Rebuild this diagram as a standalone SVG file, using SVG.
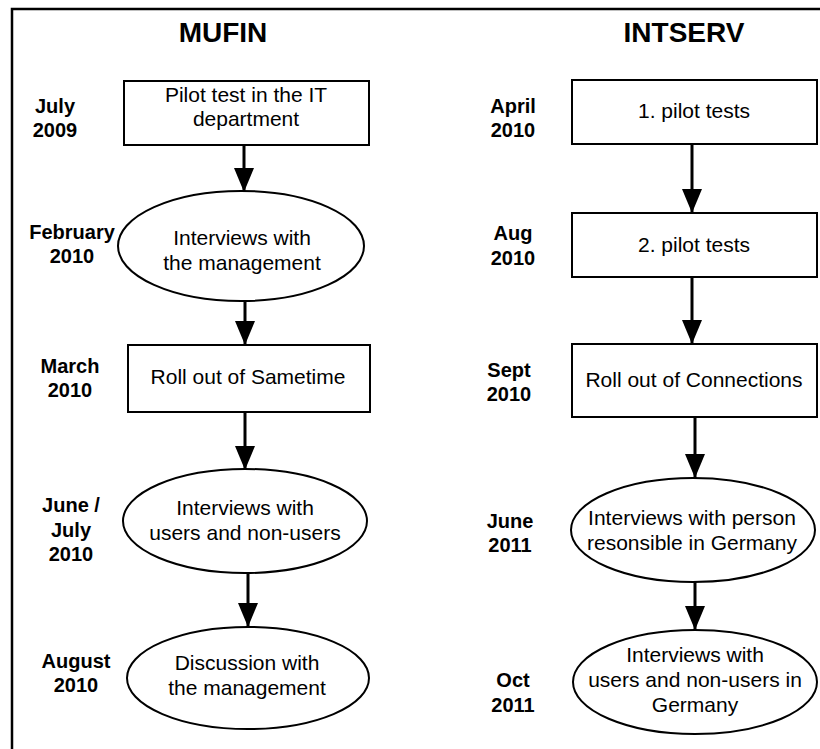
<svg xmlns="http://www.w3.org/2000/svg" width="820" height="749" viewBox="0 0 820 749">
<style>
.title{font-family:"Liberation Sans",Arial,sans-serif;font-weight:bold;font-size:28px;text-anchor:middle;fill:#000}
.date{font-family:"Liberation Sans",Arial,sans-serif;font-weight:bold;font-size:20px;text-anchor:middle;fill:#000}
.lbl{font-family:"Liberation Sans",Arial,sans-serif;font-size:21px;text-anchor:middle;fill:#000}
.shape{fill:#fff;stroke:#000;stroke-width:2}
.conn{stroke:#000;stroke-width:3;fill:none;marker-end:url(#arrow)}
</style>
<defs>
<marker id="arrow" markerUnits="userSpaceOnUse" markerWidth="24" markerHeight="20" refX="24" refY="10" orient="auto" viewBox="0 0 24 20">
<path d="M0,0 L24,10 L0,20 Z" fill="#000"/>
</marker>
</defs>
<rect width="820" height="749" fill="#fff"/>
<path d="M12,750 V9 H822" fill="none" stroke="#000" stroke-width="2.5"/>
<text class="title" x="223" y="42">MUFIN</text>
<text class="title" x="684" y="42">INTSERV</text>

<g id="dates">
<text class="date" x="55" y="113">July</text><text class="date" x="55" y="137">2009</text>
<text class="date" x="72" y="239">February</text><text class="date" x="72" y="263">2010</text>
<text class="date" x="70" y="373">March</text><text class="date" x="70" y="397">2010</text>
<text class="date" x="71" y="512">June /</text><text class="date" x="71" y="537">July</text><text class="date" x="71" y="561">2010</text>
<text class="date" x="76" y="668">August</text><text class="date" x="76" y="692">2010</text>
<text class="date" x="513" y="113">April</text><text class="date" x="513" y="137">2010</text>
<text class="date" x="513" y="240">Aug</text><text class="date" x="513" y="265">2010</text>
<text class="date" x="509" y="377">Sept</text><text class="date" x="509" y="401">2010</text>
<text class="date" x="510" y="528">June</text><text class="date" x="510" y="552">2011</text>
<text class="date" x="513" y="687">Oct</text><text class="date" x="513" y="712">2011</text>
</g>

<g id="connectors">
<line class="conn" x1="244" y1="145" x2="244" y2="192"/>
<line class="conn" x1="245" y1="301" x2="245" y2="345"/>
<line class="conn" x1="245" y1="412" x2="245" y2="470"/>
<line class="conn" x1="248" y1="573" x2="248" y2="627"/>
<line class="conn" x1="692" y1="144" x2="692" y2="213"/>
<line class="conn" x1="692" y1="277" x2="692" y2="344"/>
<line class="conn" x1="695" y1="417" x2="695" y2="478"/>
<line class="conn" x1="695" y1="582" x2="695" y2="630"/>
</g>

<g id="n1"><rect class="shape" x="124" y="81" width="245" height="64"/>
<text class="lbl" x="246" y="102">Pilot test in the IT</text><text class="lbl" x="246" y="126">department</text></g>
<g id="n2"><ellipse class="shape" cx="241" cy="246" rx="123" ry="55"/>
<text class="lbl" x="242" y="245">Interviews with</text><text class="lbl" x="242" y="270">the management</text></g>
<g id="n3"><rect class="shape" x="128" y="345" width="242" height="67"/>
<text class="lbl" x="248" y="384">Roll out of Sametime</text></g>
<g id="n4"><ellipse class="shape" cx="245" cy="521" rx="122" ry="52"/>
<text class="lbl" x="245" y="515">Interviews with</text><text class="lbl" x="245" y="540">users and non-users</text></g>
<g id="n5"><ellipse class="shape" cx="248" cy="678" rx="121" ry="51"/>
<text class="lbl" x="247" y="670">Discussion with</text><text class="lbl" x="247" y="695">the management</text></g>

<g id="r1"><rect class="shape" x="572" y="80" width="245" height="64"/>
<text class="lbl" x="694" y="118">1. pilot tests</text></g>
<g id="r2"><rect class="shape" x="572" y="213" width="245" height="64"/>
<text class="lbl" x="694" y="252">2. pilot tests</text></g>
<g id="r3"><rect class="shape" x="572" y="344" width="245" height="73"/>
<text class="lbl" x="694" y="387">Roll out of Connections</text></g>
<g id="r4"><ellipse class="shape" cx="693" cy="530" rx="122" ry="52"/>
<text class="lbl" x="692" y="525">Interviews with person</text><text class="lbl" x="692" y="550">resonsible in Germany</text></g>
<g id="r5"><ellipse class="shape" cx="695" cy="682" rx="122" ry="52"/>
<text class="lbl" x="695" y="662">Interviews with</text><text class="lbl" x="695" y="687">users and non-users in</text><text class="lbl" x="695" y="712">Germany</text></g>
</svg>
